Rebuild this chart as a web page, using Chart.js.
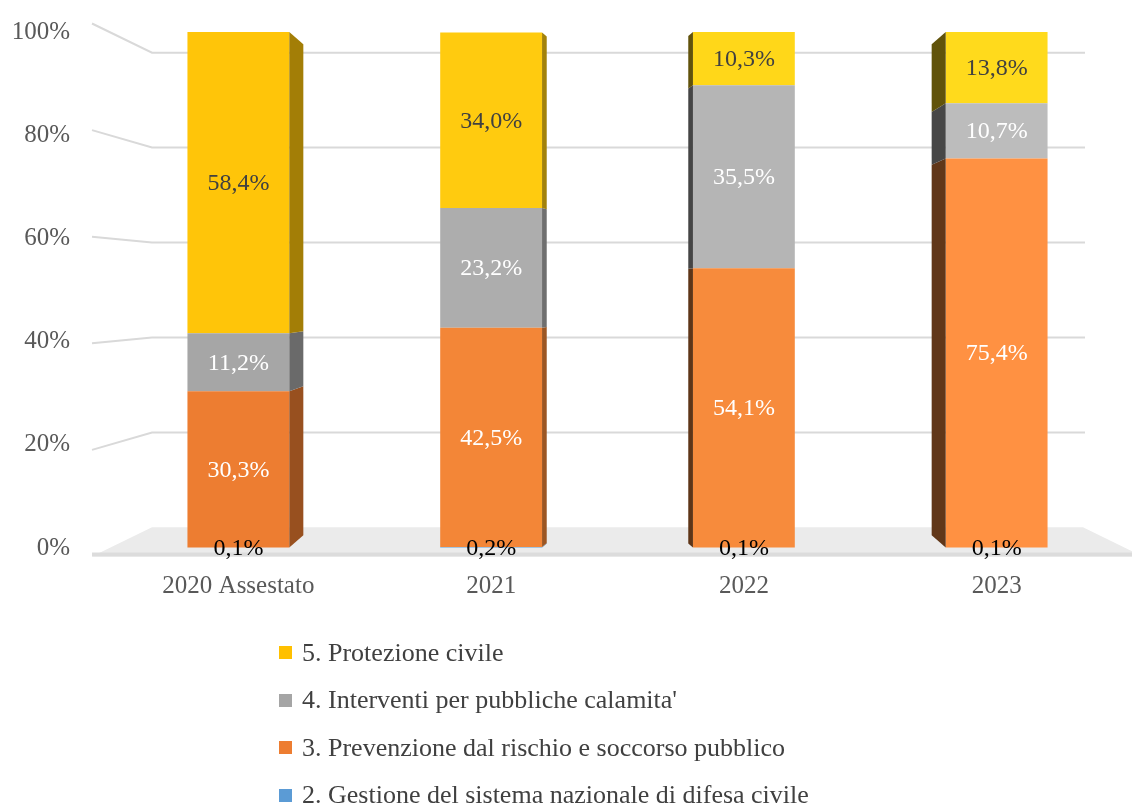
<!DOCTYPE html>
<html><head><meta charset="utf-8">
<script src="https://cdn.jsdelivr.net/npm/chart.js@4.4.0/dist/chart.umd.min.js"></script>
<style>
html,body{margin:0;padding:0;background:#fff;}
#wrap{position:relative;width:1132px;height:807px;overflow:hidden;}
#c{position:absolute;left:0;top:0;}
#legend{position:absolute;left:279px;top:629px;font-family:"Liberation Serif","Times New Roman",serif;font-size:26px;color:#404040;}
#legend .item{display:flex;align-items:center;height:47.5px;white-space:nowrap;}
#legend .box{width:13px;height:13px;margin-right:10px;flex:none;}
</style></head><body>
<div id="wrap"><canvas id="c" width="1132" height="807"></canvas><div id="legend"></div></div>
<script>
// ---- data ----
const categories = ['2020 Assestato', '2021', '2022', '2023'];
const seriesNames = [
  '2. Gestione del sistema nazionale di difesa civile',
  '3. Prevenzione dal rischio e soccorso pubblico',
  "4. Interventi per pubbliche calamita'",
  '5. Protezione civile'
];
const gestione    = [0.1, 0.2, 0.1, 0.1];
const prevenzione = [30.3, 42.5, 54.1, 75.4];
const interventi  = [11.2, 23.2, 35.5, 10.7];
const protezione  = [58.4, 34.0, 10.3, 13.8];
const yTicks = [0, 20, 40, 60, 80, 100];

// ---- styles ----
const SERIF = '"Liberation Serif", "Times New Roman", serif';
const fills = [
  ['#5B9BD5', '#5FA0DA', '#62A4DE', '#66A8E2'],
  ['#ED7D31', '#F38637', '#F78B3C', '#FF9142'],
  ['#A6A6A6', '#ADADAD', '#B5B5B5', '#BCBCBC'],
  ['#FFC509', '#FFCB0F', '#FFD719', '#FFDA1C']
];
const labelColors = ['#000000', '#FFFFFF', '#FFFFFF', '#404040'];
const legendColors = ['#5B9BD5', '#ED7D31', '#A5A5A5', '#FFC000'];
const values = [gestione, prevenzione, interventi, protezione];

function shade(hex, f) {
  const n = parseInt(hex.slice(1), 16);
  const r = Math.round(((n >> 16) & 255) * f), g = Math.round(((n >> 8) & 255) * f), b = Math.round((n & 255) * f);
  return `rgb(${r},${g},${b})`;
}
function fmt(v) { return v.toFixed(1).replace('.', ',') + '%'; }

const threeD = {
  id: 'threeD',
  beforeDatasetsDraw(chart) {
    const {ctx, chartArea: ca, scales: {y}} = chart;
    const cy = (ca.top + ca.bottom) / 2;
    const kf = 1.033, kb = 0.92;
    ctx.save();
    // floor
    const y0 = y.getPixelForValue(0);
    const f0 = cy + (y0 - cy) * kf, b0 = cy + (y0 - cy) * kb;
    ctx.fillStyle = '#EBEBEB';
    ctx.beginPath();
    ctx.moveTo(ca.left - 20, f0);
    ctx.lineTo(ca.left + 40, b0);
    ctx.lineTo(ca.right - 40, b0);
    ctx.lineTo(ca.right + 20, f0);
    ctx.closePath();
    ctx.fill();
    ctx.fillStyle = '#DCDCDC';
    ctx.fillRect(ca.left - 20, f0 - 4, ca.right - ca.left + 40, 4);
    // grid lines
    ctx.strokeStyle = '#D9D9D9';
    ctx.lineWidth = 2;
    y.ticks.forEach(t => {
      if (t.value === 0) return;
      const yp = y.getPixelForValue(t.value);
      const fy = cy + (yp - cy) * kf, by = cy + (yp - cy) * kb;
      ctx.beginPath();
      ctx.moveTo(ca.left - 20, fy);
      ctx.lineTo(ca.left + 40, by);
      ctx.lineTo(ca.right - 38, by);
      ctx.stroke();
    });
    ctx.restore();
  },
  afterDatasetsDraw(chart) {
    const {ctx, chartArea: ca} = chart;
    const cy = (ca.top + ca.bottom) / 2;
    const vx = (ca.left + ca.right) / 2;
    ctx.save();
    // side faces
    chart.data.datasets.forEach((ds, di) => {
      const meta = chart.getDatasetMeta(di);
      meta.data.forEach((bar, i) => {
        const {x, y: top, base, width} = bar.getProps(['x', 'y', 'base', 'width'], true);
        const dx = -(x - vx) * 0.037;
        const ex = dx > 0 ? x + width / 2 : x - width / 2;
        const k = 1 - Math.abs(dx) * 0.0034;
        const fac = dx > 0 ? 0.64 : 0.38;
        ctx.fillStyle = shade(ds.backgroundColor[i], fac);
        ctx.beginPath();
        ctx.moveTo(ex, top);
        ctx.lineTo(ex + dx, cy + (top - cy) * k);
        ctx.lineTo(ex + dx, cy + (base - cy) * k);
        ctx.lineTo(ex, base);
        ctx.closePath();
        ctx.fill();
      });
    });
    // value labels
    ctx.font = `24px ${SERIF}`;
    ctx.textAlign = 'center';
    ctx.textBaseline = 'middle';
    chart.data.datasets.forEach((ds, di) => {
      const meta = chart.getDatasetMeta(di);
      meta.data.forEach((bar, i) => {
        const {x, y: top, base} = bar.getProps(['x', 'y', 'base'], true);
        ctx.fillStyle = labelColors[di];
        ctx.fillText(fmt(ds.data[i]), x, (top + base) / 2 + 1);
      });
    });
    ctx.restore();
  },
  afterUpdate(chart) {
    const el = document.getElementById('legend');
    el.innerHTML = '';
    chart.data.datasets.slice().reverse().forEach((ds) => {
      const idx = chart.data.datasets.indexOf(ds);
      const item = document.createElement('div');
      item.className = 'item';
      const box = document.createElement('span');
      box.className = 'box';
      box.style.background = legendColors[idx];
      const txt = document.createElement('span');
      txt.textContent = ds.label;
      item.appendChild(box); item.appendChild(txt);
      el.appendChild(item);
    });
  }
};

new Chart(document.getElementById('c'), {
  type: 'bar',
  data: {
    labels: categories,
    datasets: values.map((v, i) => ({
      label: seriesNames[i],
      data: v,
      backgroundColor: fills[i],
      borderWidth: 0,
      barPercentage: 0.403,
      categoryPercentage: 1
    }))
  },
  options: {
    responsive: false,
    animation: false,
    layout: {padding: {left: 12, right: 9, top: 32, bottom: 209}},
    plugins: {legend: {display: false}, tooltip: {enabled: false}},
    scales: {
      x: {
        stacked: true,
        grid: {display: false, drawTicks: false},
        border: {display: false},
        ticks: {font: {family: SERIF, size: 25}, color: '#595959', padding: 23},
        afterFit(s) { s.height = 50; }
      },
      y: {
        stacked: true,
        min: 0, max: 100,
        afterBuildTicks(s) { s.ticks = yTicks.map(v => ({value: v})); },
        grid: {display: true, drawOnChartArea: false, drawTicks: true, tickLength: 26, color: 'rgba(0,0,0,0)'},
        border: {display: false},
        ticks: {font: {family: SERIF, size: 25}, color: '#595959', padding: 16, callback: v => v + '%'},
        afterFit(s) { s.width = 100; }
      }
    }
  },
  plugins: [threeD]
});
</script>
</body></html>
